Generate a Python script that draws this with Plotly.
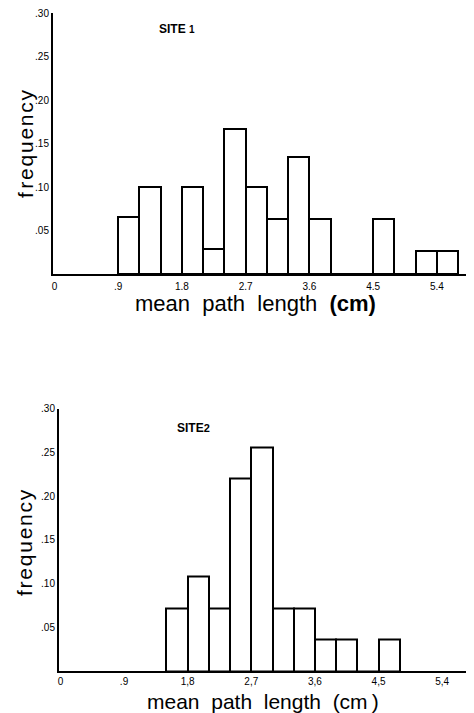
import plotly.graph_objects as go

# Bin centres (cm) and frequencies, bins 0.3 cm wide
site1_bins = [1.05, 1.35, 1.65, 1.95, 2.25, 2.55, 2.85, 3.15, 3.45, 3.75, 4.05, 4.35, 4.65, 4.95, 5.25, 5.55]
site1_freq = [0.065, 0.100, 0.0, 0.100, 0.029, 0.167, 0.100, 0.063, 0.134, 0.063, 0.0, 0.0, 0.063, 0.0, 0.027, 0.027]

site2_bins = [1.65, 1.95, 2.25, 2.55, 2.85, 3.15, 3.45, 3.75, 4.05, 4.35, 4.65]
site2_freq = [0.0715, 0.1075, 0.0715, 0.220, 0.256, 0.0715, 0.0715, 0.0358, 0.0358, 0.0, 0.0358]

x_tickvals = [0, 0.9, 1.8, 2.7, 3.6, 4.5, 5.4]
x_ticktext_1 = ["0", ".9", "1.8", "2.7", "3.6", "4.5", "5.4"]
x_ticktext_2 = ["0", ".9", "1,8", "2,7", "3,6", "4,5", "5,4"]
y_tickvals = [0.05, 0.10, 0.15, 0.20, 0.25, 0.30]
y_ticktext = [".05", ".10", ".15", ".20", ".25", ".30"]

# page has an 8px body margin; figure drawn from (8, 8)
OFF = 8
W, H = 466, 705
FONT = "Liberation Sans, Arial, sans-serif"

def px(x):
    return (x - OFF) / W

def py(y):
    return 1 - (y - OFF) / H

fig = go.Figure()
fig.add_trace(go.Bar(x=site1_bins, y=site1_freq, width=0.3,
                     marker=dict(color="white", line=dict(color="black", width=2)),
                     xaxis="x", yaxis="y", showlegend=False))
fig.add_trace(go.Bar(x=site2_bins, y=site2_freq, width=0.3,
                     marker=dict(color="white", line=dict(color="black", width=2)),
                     xaxis="x2", yaxis="y2", showlegend=False))

axis_common = dict(showgrid=False, zeroline=False, showline=True, linecolor="black",
                   linewidth=2, ticks="", automargin=False, ticklabeloverflow="allow",
                   tickfont=dict(family=FONT, size=10, color="black"))

fig.update_layout(
    width=W, height=H,
    margin=dict(l=0, r=0, t=0, b=0),
    paper_bgcolor="white", plot_bgcolor="white",
    bargap=0,
    xaxis=dict(domain=[px(53), 1.0], range=[-0.021, 5.925], anchor="y",
               tickvals=x_tickvals, ticktext=x_ticktext_1, ticklabelstandoff=2, **axis_common),
    yaxis=dict(domain=[py(274), py(13)], range=[0, 0.30], anchor="x",
               tickvals=y_tickvals, ticktext=y_ticktext, **axis_common),
    xaxis2=dict(domain=[px(59), 1.0], range=[-0.02, 5.85], anchor="y2",
                tickvals=x_tickvals, ticktext=x_ticktext_2, ticklabelstandoff=0, **axis_common),
    yaxis2=dict(domain=[py(671), py(408.5)], range=[0, 0.30], anchor="x2",
                tickvals=y_tickvals, ticktext=y_ticktext, **axis_common),
)

ann_font_big = dict(family=FONT, size=21, color="black")
ann_font_x = dict(family=FONT, size=22, color="black")
hs = "\u200a"
freq_text = "f" + hs + hs + hs.join("requency")
annotations = [
    dict(text=freq_text, x=px(25), y=py(144), textangle=-90, font=ann_font_big),
    dict(text=hs.join("frequency"), x=px(24), y=py(543), textangle=-90, font=ann_font_big),
    dict(text="mean\u00a0\u00a0path\u00a0\u00a0length\u00a0\u00a0<b>(cm)</b>", x=px(255), y=py(303),
         font=ann_font_x),
    dict(text="mean\u00a0\u00a0path\u00a0\u00a0length\u00a0\u00a0(cm\u2009)", x=px(263), y=py(701),
         font=dict(family=FONT, size=21, color="black")),
    dict(text="<b>SITE <span style='font-size:10px'>1</span></b>", x=px(177), y=py(29),
         font=dict(family=FONT, size=12, color="black")),
    dict(text="<b>SITE<span style='font-size:11px'>2</span></b>", x=px(193), y=py(428),
         font=dict(family=FONT, size=12, color="black")),
]
for a in annotations:
    a.update(xref="paper", yref="paper", showarrow=False, xanchor="center", yanchor="middle")
fig.update_layout(annotations=annotations)

fig.write_html("out.html")
